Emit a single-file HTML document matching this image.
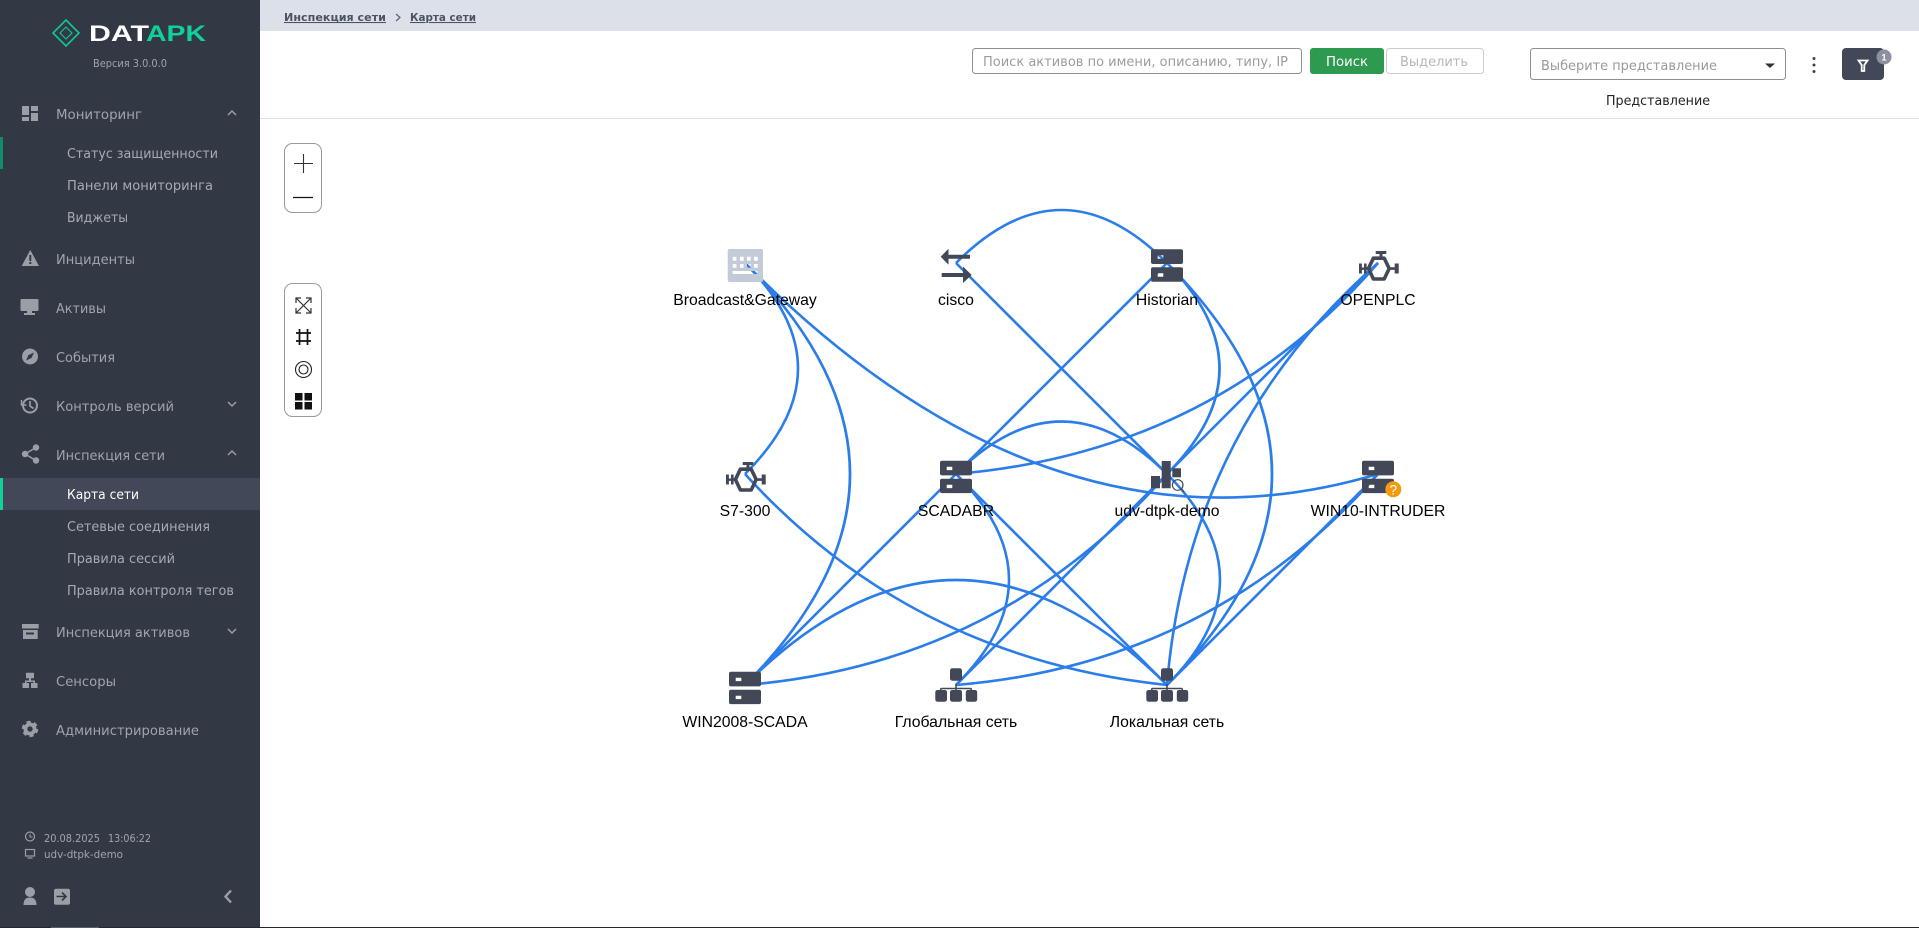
<!DOCTYPE html>
<html lang="ru">
<head>
<meta charset="utf-8">
<title>Карта сети</title>
<style>
html,body{margin:0;padding:0;background:#fff;width:1919px;height:928px;overflow:hidden}
svg{display:block}
.m{font-family:"DejaVu Sans","Liberation Sans",sans-serif;font-size:13.5px;fill:#a0a4ab}
.s{font-family:"DejaVu Sans","Liberation Sans",sans-serif;font-size:13.5px;fill:#a6aab1}
.t{font-family:"DejaVu Sans","Liberation Sans",sans-serif;font-size:10.5px;fill:#a0a4ab}
.n{font-family:"Liberation Sans",Arial,sans-serif;font-size:15.75px;fill:#000;text-anchor:middle}
.ui{font-family:"DejaVu Sans","Liberation Sans",sans-serif;font-size:13.5px}
.e path{fill:none;stroke:#2b7de9;stroke-width:2.6}
</style>
</head>
<body>
<svg width="1919" height="928" viewBox="0 0 1919 928" xmlns="http://www.w3.org/2000/svg">
<defs>
<g id="server"><path fill="#424857" fill-rule="evenodd" d="M-14,0h28a2,2 0 0 1 2,2v10.7a2,2 0 0 1-2,2h-28a2,2 0 0 1-2-2v-10.7a2,2 0 0 1 2-2zM-9.3,6v3.4h5.6v-3.4zM-14,18h28a2,2 0 0 1 2,2v10.4a2,2 0 0 1-2,2h-28a2,2 0 0 1-2-2v-10.4a2,2 0 0 1 2-2zM-9.3,24v3.4h5.6v-3.4z"/></g>
<g id="plc"><path fill="none" stroke="#424857" stroke-width="3.6" stroke-linejoin="round" d="M-9.6,18.5L-4.6,8.2H6.2L11.2,18.5L6.2,29H-4.6z"/>
<path fill="#424857" d="M-2.3,1h10.6v3H4.5v4.4H1.5V4H-2.3zM-19,13.5h2.9v4h2.1v-4h2.6v10h-2.6v-3.6h-2.1v3.6H-19zM-12,17.3h3v2.6h-3zM11.5,17.3h5.4v2.6h-5.4zM16.7,13.5h4v10h-4z"/></g>
<g id="net"><path fill="none" stroke="#424857" stroke-width="1.6" d="M0,0V10M-15.3,10V5.5a1,1 0 0 1 1-1H14.3a1,1 0 0 1 1,1V10"/>
<rect x="-6" y="-15.7" width="12" height="12.4" rx="2.2" fill="#424857"/>
<rect x="-20.7" y="6" width="11.7" height="11.7" rx="2.2" fill="#424857"/>
<rect x="-6" y="6" width="12" height="11.7" rx="2.2" fill="#424857"/>
<rect x="9.8" y="6" width="11.4" height="11.7" rx="2.2" fill="#424857"/></g>
</defs>

<!-- header -->
<rect x="260" y="0" width="1659" height="31" fill="#dce0e8"/>
<rect x="260" y="118" width="1659" height="1" fill="#dde3ea"/>
<text x="284" y="21" textLength="102" lengthAdjust="spacingAndGlyphs" font-family="'DejaVu Sans',sans-serif" font-size="10.5" font-weight="700" fill="#4c5464" text-decoration="underline">Инспекция сети</text>
<path d="M396,14l4,3.5l-4,3.5" fill="none" stroke="#5a6272" stroke-width="1.2"/>
<text x="410" y="21" textLength="66" lengthAdjust="spacingAndGlyphs" font-family="'DejaVu Sans',sans-serif" font-size="10.5" font-weight="700" fill="#4c5464" text-decoration="underline">Карта сети</text>

<!-- search -->
<rect x="972.5" y="48.5" width="329" height="25" rx="3" fill="#fff" stroke="#8f8f8f"/>
<text class="ui" x="983" y="66" textLength="305" lengthAdjust="spacingAndGlyphs" fill="#9c9c9c">Поиск активов по имени, описанию, типу, IP</text>
<rect x="1310" y="48" width="74" height="26" rx="3" fill="#2e9a4f"/>
<text class="ui" x="1326" y="66" textLength="42" lengthAdjust="spacingAndGlyphs" fill="#fff">Поиск</text>
<rect x="1386.5" y="48.5" width="97" height="25" rx="3" fill="#fff" stroke="#cccccc"/>
<text class="ui" x="1400" y="66" textLength="68" lengthAdjust="spacingAndGlyphs" fill="#b6b6b6">Выделить</text>
<rect x="1530.5" y="48.5" width="255" height="31" rx="3" fill="#fff" stroke="#8f8f8f"/>
<text class="ui" x="1541" y="70" textLength="176" lengthAdjust="spacingAndGlyphs" fill="#999">Выберите представление</text>
<path d="M1765,63.500h10l-5,4.500z" fill="#333"/>
<circle cx="1814" cy="58.500" r="1.500" fill="#3c4555"/><circle cx="1814" cy="65" r="1.500" fill="#3c4555"/><circle cx="1814" cy="71.500" r="1.500" fill="#3c4555"/>
<rect x="1842" y="48" width="42" height="32" rx="4" fill="#424857"/>
<path d="M1858.500,60.500h9l-3.200,4.500v6h-2.600v-6z" fill="none" stroke="#fff" stroke-width="1.800"/>
<circle cx="1884" cy="57" r="7.500" fill="#8c90a0"/>
<text x="1884" y="60.500" text-anchor="middle" font-family="'Liberation Sans',sans-serif" font-size="9" font-weight="700" fill="#fff">1</text>
<text class="ui" x="1606" y="105" textLength="104" lengthAdjust="spacingAndGlyphs" fill="#222">Представление</text>

<!-- toolbars -->
<rect x="284.500" y="143.500" width="37" height="69" rx="8" fill="#fff" stroke="#999"/>
<path d="M294,163.500h19M303.500,154v19" stroke="#333" stroke-width="1.100" fill="none"/>
<path d="M293,197.500h20" stroke="#111" stroke-width="1.200" fill="none"/>
<rect x="284.500" y="283.500" width="37" height="133" rx="8" fill="#fff" stroke="#999"/>
<path d="M296,298l15,15M311,298l-15,15M296,303v-5h5M306,298h5v5M296,308v5h5M311,308v5h-5" stroke="#333" stroke-width="1.200" fill="none"/>
<path d="M296,333h15M296,341h15M299.500,329v16M307.500,329v16" stroke="#111" stroke-width="1.700" fill="none"/>
<circle cx="303.500" cy="369.500" r="8" fill="none" stroke="#222" stroke-width="1.100"/>
<circle cx="303.500" cy="369.500" r="4.500" fill="none" stroke="#222" stroke-width="1.100"/>
<path d="M295,393h7.500v7.500h-7.500zM304.500,393h7.500v7.500h-7.500zM295,402h7.500v7.500h-7.500zM304.500,402h7.500v7.500h-7.500z" fill="#111"/>

<!-- edges -->
<g class="e">
<path d="M956,263Q1061.500,157 1167,263"/>
<path d="M956,263L1167,474"/>
<path d="M1167,263L956,474"/>
<path d="M1167,263Q1272,368.500 1167,474"/>
<path d="M1167,263Q1377,474 1167,685"/>
<path d="M1378,263Q1214,452 956,474"/>
<path d="M1378,263L1167,474"/>
<path d="M1378,263Q1188,430 1167,685"/>
<path d="M745,263Q851,368.500 745,474"/>
<path d="M745,263Q955,474 745,685"/>
<path d="M745,263Q1050,572 1378,474"/>
<path d="M956,474Q1061.500,369 1167,474"/>
<path d="M956,474L745,685"/>
<path d="M956,474L1167,685"/>
<path d="M956,474Q1062,579.500 956,685"/>
<path d="M1167,474Q1000,664 745,685"/>
<path d="M1167,474L956,685"/>
<path d="M1167,474Q1273,579.500 1167,685"/>
<path d="M745,685Q956,475 1167,685"/>
<path d="M745,474Q912,658 1167,685"/>
<path d="M1378,474Q1211,664 956,685"/>
<path d="M1378,474L1167,685"/>
</g>

<!-- nodes -->
<path fill="#c3cad8" fill-rule="evenodd" d="M729.700,249h31.300a2,2 0 0 1 2,2v29a2,2 0 0 1-2,2h-31.300a2,2 0 0 1-2-2v-29a2,2 0 0 1 2-2zM732.700,256.700v4h3.700v-4zM740,256.700v4h3.700v-4zM747,256.700v4h3.700v-4zM754,256.700v4h3.700v-4zM732.700,264v3.700h3.700v-3.700zM740,264v3.700h3.700v-3.700zM747,264v3.700h3.700v-3.700zM754,264v3.700h3.700v-3.700zM732.700,271v3h24.700v-3z"/>
<path fill="#424857" d="M940.700,256.700L948.500,248.700V254.700H970V258.700H948.500V264.700zM941.700,273H963V266.500L971.700,275L963,283V277H941.700z"/>
<use href="#server" x="1167" y="249.300"/>
<use href="#plc" x="1378" y="250"/>
<use href="#plc" x="745" y="461"/>
<use href="#server" x="956" y="460.700"/>
<path fill="#424857" d="M1161.700,461h9v27.300h-9zM1151,476h9v12.300h-9zM1172.300,468.300h8.700v9h-8.700z"/>
<circle cx="1177.700" cy="485" r="5.300" fill="#fff" fill-opacity="0" stroke="#424857" stroke-width="1.200"/>
<path d="M1181.500,489l2.500,2.800" stroke="#424857" stroke-width="1.200"/>
<use href="#server" x="1378" y="460.700"/>
<circle cx="1393.300" cy="489.300" r="8" fill="#f59a0f"/>
<text x="1393.300" y="494.500" text-anchor="middle" font-family="'Liberation Sans',sans-serif" font-size="14" fill="#fff">?</text>
<use href="#server" x="745" y="671.700"/>
<use href="#net" x="956" y="684"/>
<use href="#net" x="1167" y="684"/>

<text class="n" x="745" y="305">Broadcast&amp;Gateway</text>
<text class="n" x="956" y="305">cisco</text>
<text class="n" x="1167" y="305">Historian</text>
<text class="n" x="1378" y="305">OPENPLC</text>
<text class="n" x="745" y="516">S7-300</text>
<text class="n" x="956" y="516">SCADABR</text>
<text class="n" x="1167" y="516">udv-dtpk-demo</text>
<text class="n" x="1378" y="516">WIN10-INTRUDER</text>
<text class="n" x="745" y="727">WIN2008-SCADA</text>
<text class="n" x="956" y="727">Глобальная сеть</text>
<text class="n" x="1167" y="727">Локальная сеть</text>

<!-- sidebar -->
<rect x="0" y="0" width="260" height="928" fill="#323844"/>
<path d="M66,20l13,13l-13,13l-13-13z" fill="none" stroke="#10c795" stroke-width="1.600"/>
<path d="M66,27l6,6l-6,6l-6-6z" fill="none" stroke="#10c795" stroke-width="1.100"/>
<text x="89" y="41" textLength="60" lengthAdjust="spacingAndGlyphs" font-family="'Liberation Sans',sans-serif" font-size="22" font-weight="700" fill="#fff">DAT</text>
<text x="146" y="41" textLength="60" lengthAdjust="spacingAndGlyphs" font-family="'Liberation Sans',sans-serif" font-size="22" font-weight="700" fill="#10d19a">APK</text>
<text class="t" x="93" y="67" textLength="74" lengthAdjust="spacingAndGlyphs">Версия 3.0.0.0</text>

<rect x="0" y="137" width="3" height="32" fill="#108e6c"/>
<rect x="0" y="478" width="260" height="32" fill="#424857"/>
<rect x="0" y="478" width="3" height="32" fill="#10d19a"/>

<text class="m" x="56" y="119" textLength="86" lengthAdjust="spacingAndGlyphs">Мониторинг</text>
<text class="s" x="67" y="158" textLength="151" lengthAdjust="spacingAndGlyphs">Статус защищенности</text>
<text class="s" x="67" y="190" textLength="146" lengthAdjust="spacingAndGlyphs">Панели мониторинга</text>
<text class="s" x="67" y="222" textLength="61" lengthAdjust="spacingAndGlyphs">Виджеты</text>
<text class="m" x="56" y="264" textLength="79" lengthAdjust="spacingAndGlyphs">Инциденты</text>
<text class="m" x="56" y="313" textLength="50" lengthAdjust="spacingAndGlyphs">Активы</text>
<text class="m" x="56" y="362" textLength="59" lengthAdjust="spacingAndGlyphs">События</text>
<text class="m" x="56" y="411" textLength="118" lengthAdjust="spacingAndGlyphs">Контроль версий</text>
<text class="m" x="56" y="460" textLength="109" lengthAdjust="spacingAndGlyphs">Инспекция сети</text>
<text class="s" x="67" y="499" textLength="72" lengthAdjust="spacingAndGlyphs" style="fill:#fff">Карта сети</text>
<text class="s" x="67" y="531" textLength="143" lengthAdjust="spacingAndGlyphs">Сетевые соединения</text>
<text class="s" x="67" y="563" textLength="108" lengthAdjust="spacingAndGlyphs">Правила сессий</text>
<text class="s" x="67" y="595" textLength="167" lengthAdjust="spacingAndGlyphs">Правила контроля тегов</text>
<text class="m" x="56" y="637" textLength="134" lengthAdjust="spacingAndGlyphs">Инспекция активов</text>
<text class="m" x="56" y="686" textLength="60" lengthAdjust="spacingAndGlyphs">Сенсоры</text>
<text class="m" x="56" y="735" textLength="143" lengthAdjust="spacingAndGlyphs">Администрирование</text>

<text class="t" x="44" y="842" textLength="56" lengthAdjust="spacingAndGlyphs">20.08.2025</text>
<text class="t" x="108" y="842" textLength="43" lengthAdjust="spacingAndGlyphs">13:06:22</text>
<text class="t" x="44" y="858" textLength="79" lengthAdjust="spacingAndGlyphs">udv-dtpk-demo</text>

<g fill="#9a9ea6">
<path d="M22,106h7v9h-7zM31,106h7v5h-7zM31,113h7v8h-7zM22,117h7v4h-7z"/>
<path fill-rule="evenodd" d="M30.300,250l8.700,16h-17.300zM29.300,255v6h2v-6zM29.300,262v2h2v-2z"/>
<path d="M22.500,299h15a1,1 0 0 1 1,1v10a1,1 0 0 1-1,1h-5.500v2h3v2h-11v-2h3v-2h-5.500a1,1 0 0 1-1-1v-10a1,1 0 0 1 1-1z"/>
<path fill-rule="evenodd" d="M30,348.500a8,8 0 1 1-.01,0zM34,352.500l-5.500,2.500l-2.500,5.500l5.500-2.500z"/>
<circle cx="36" cy="447.500" r="3.200"/><circle cx="25" cy="454" r="3.200"/><circle cx="36" cy="460.500" r="3.200"/>
<path d="M22,624h16.700v4.500h-16.700zM23,630h14.700v9h-14.700z"/>
<path d="M26,672.700h8v5.500h-8zM29,678h2v2.500h-2zM22.500,683h6.500v5h-6.500zM31,683h6.500v5h-6.500zM25,680.500h10v3h-1.500v-1.500h-7v1.500h-1.500z"/>
<circle cx="30" cy="729" r="6.500"/>
<path d="M30,892m-5,0a5,5 0 1 0 10,0a5,5 0 1 0-10,0M23.500,905c0-6 3-7.500 6.500-7.500s6.500,1.500 6.500,7.500z"/>
<path fill-rule="evenodd" d="M56,888.700h12a2,2 0 0 1 2,2v12a2,2 0 0 1-2,2h-12a2,2 0 0 1-2-2v-12a2,2 0 0 1 2-2z"/>
</g>
<circle cx="30" cy="729" r="7" fill="none" stroke="#9a9ea6" stroke-width="2.400" stroke-dasharray="4 3.330"/>
<path d="M56.500,896.500h9M62,892.500l4,4l-4,4" fill="none" stroke="#323844" stroke-width="1.600"/>
<circle cx="30" cy="729" r="2.700" fill="#323844"/>
<circle cx="30" cy="405.500" r="7" fill="none" stroke="#9a9ea6" stroke-width="2"/>
<path d="M30,401v5l3.500,2.500" fill="none" stroke="#9a9ea6" stroke-width="1.700"/>
<path d="M21.500,400v5h5" fill="none" stroke="#9a9ea6" stroke-width="1.500"/>
<path d="M36,447.500L25,454L36,460.500" fill="none" stroke="#9a9ea6" stroke-width="1.500"/>
<rect x="26" y="632.500" width="8" height="2" fill="#323844"/>
<g fill="none" stroke="#9a9ea6" stroke-width="1.500">
<path d="M228,115l4-4l4,4M228,402l4,4l4-4M228,455l4-4l4,4M228,629l4,4l4-4"/>
<circle cx="30" cy="836.500" r="4.500" stroke-width="1.200"/>
<path d="M30,834v3h2.500" stroke-width="1"/>
<rect x="25.500" y="849.500" width="9" height="6.500" stroke-width="1.200"/>
<path d="M27.500,858h5" stroke-width="1.200"/>
<path d="M231,890.500l-5.500,6l5.500,6" stroke-width="2.400"/>
</g>

<!-- bottom -->
<rect x="0" y="927" width="1919" height="1" fill="#23272e"/>
<rect x="51" y="927" width="48" height="1" fill="#5b616c"/>
</svg>
</body>
</html>
